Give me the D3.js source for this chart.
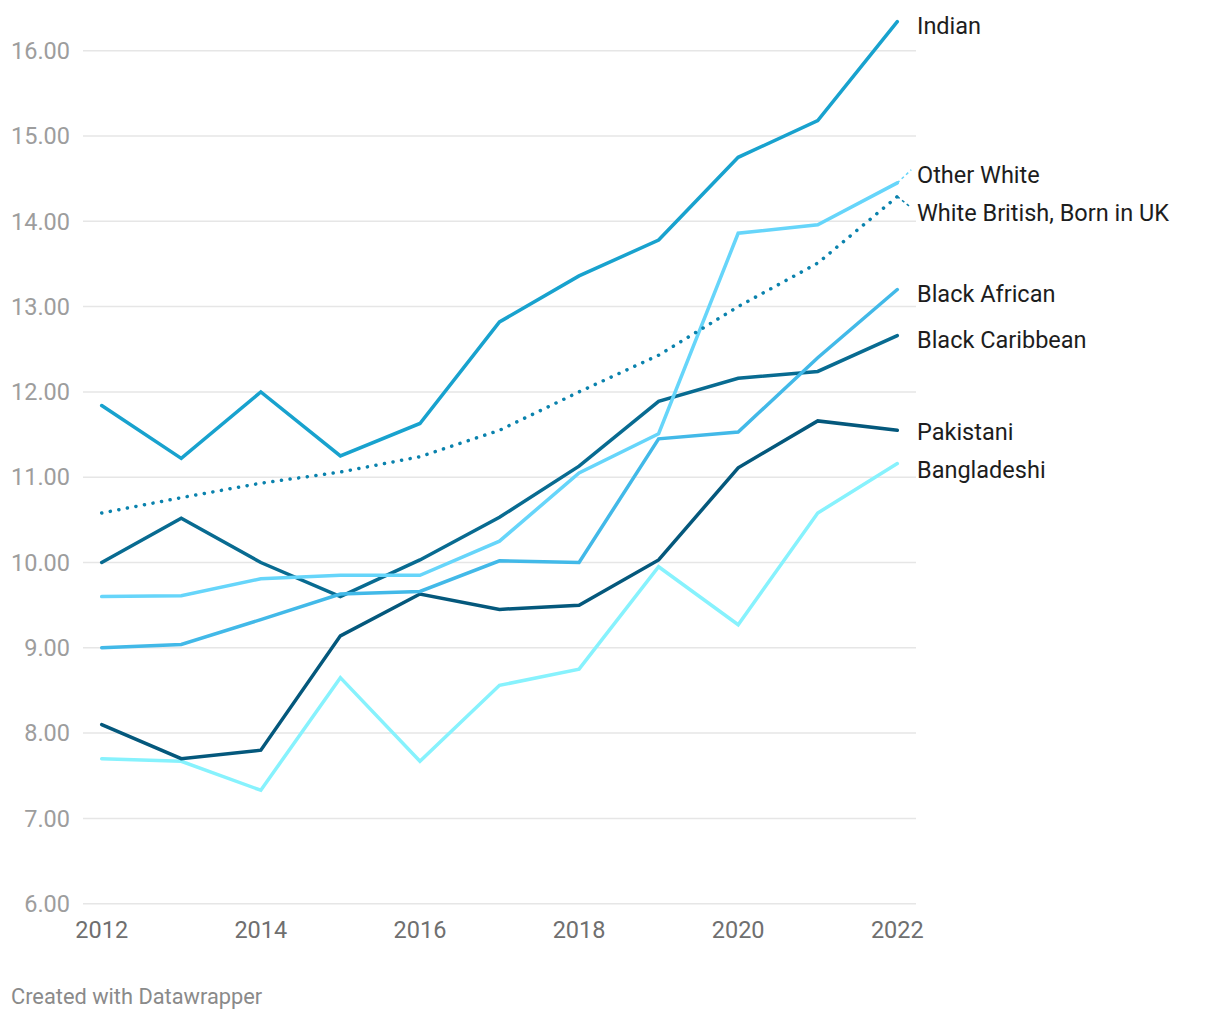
<!DOCTYPE html>
<html lang="en">
<head>
    <meta charset="UTF-8">
    <script src="https://cdn.jsdelivr.net/npm/d3@7"></script>
    <title>Line chart by ethnic group</title>
    <style>
        body {
            margin: 0;
            background: white;
            font-family: Roboto, "Noto Sans", sans-serif;
        }
        .grid line {
            stroke: #e6e6e6;
            stroke-width: 1.5px;
        }
        .series {
            fill: none;
            stroke-width: 3.5px;
            stroke-linejoin: miter;
            stroke-linecap: round;
        }
    </style>
</head>
<body>
    <div id="chart"></div>

    <script>
        // Data
        const years = [2012, 2013, 2014, 2015, 2016, 2017, 2018, 2019, 2020, 2021, 2022];

        const indian         = [11.84, 11.22, 12.00, 11.25, 11.63, 12.82, 13.36, 13.78, 14.75, 15.18, 16.34];
        const whiteBritish   = [10.58, 10.76, 10.93, 11.06, 11.24, 11.55, 12.00, 12.43, 13.00, 13.51, 14.29];
        const otherWhite     = [9.60, 9.61, 9.81, 9.85, 9.85, 10.25, 11.05, 11.51, 13.86, 13.96, 14.45];
        const blackAfrican   = [9.00, 9.04, 9.33, 9.63, 9.66, 10.02, 10.00, 11.45, 11.53, 12.40, 13.20];
        const blackCaribbean = [10.00, 10.52, 10.00, 9.60, 10.03, 10.53, 11.13, 11.89, 12.16, 12.24, 12.66];
        const pakistani      = [8.10, 7.70, 7.80, 9.14, 9.63, 9.45, 9.50, 10.03, 11.11, 11.66, 11.55];
        const bangladeshi    = [7.70, 7.67, 7.33, 8.65, 7.67, 8.56, 8.75, 9.95, 9.27, 10.58, 11.16];

        const yTicks = [6, 7, 8, 9, 10, 11, 12, 13, 14, 15, 16];
        const xTicks = [2012, 2014, 2016, 2018, 2020, 2022];

        const seriesList = [
            { name: "Bangladeshi", values: bangladeshi, color: "#87f2fd", dotted: false },
            { name: "Pakistani", values: pakistani, color: "#04587c", dotted: false },
            { name: "Black Caribbean", values: blackCaribbean, color: "#086b91", dotted: false },
            { name: "Black African", values: blackAfrican, color: "#42b9e8", dotted: false },
            { name: "Other White", values: otherWhite, color: "#66d5fa", dotted: false },
            { name: "White British, Born in UK", values: whiteBritish, color: "#0a82ad", dotted: true },
            { name: "Indian", values: indian, color: "#18a2ce", dotted: false }
        ];

        // Dimensions
        const width = 1220, height = 1020;
        const plot = { left: 83, right: 916, top: 50.7, bottom: 903.7 };

        const svg = d3.select("#chart").append("svg")
            .attr("width", width)
            .attr("height", height);

        const x = d3.scaleLinear()
            .domain([2012, 2022])
            .range([101.7, 897.3]);

        const y = d3.scaleLinear()
            .domain([6, 16])
            .range([plot.bottom, plot.top]);

        /*--- Grid + y labels ---*/
        const grid = svg.append("g").attr("class", "grid");
        grid.selectAll("line")
            .data(yTicks)
            .enter()
            .append("line")
            .attr("x1", plot.left)
            .attr("x2", plot.right)
            .attr("y1", d => y(d))
            .attr("y2", d => y(d));

        svg.append("g")
            .selectAll("text")
            .data(yTicks)
            .enter()
            .append("text")
            .attr("x", 70)
            .attr("y", d => y(d))
            .attr("dy", "0.35em")
            .attr("text-anchor", "end")
            .attr("fill", "#9d9d9d")
            .style("font-size", "23.5px")
            .text(d => d3.format(".2f")(d));

        /*--- x axis labels ---*/
        svg.append("g")
            .selectAll("text")
            .data(xTicks)
            .enter()
            .append("text")
            .attr("x", d => x(d))
            .attr("y", 938)
            .attr("text-anchor", "middle")
            .attr("fill", "#6f6f6f")
            .style("font-size", "23.5px")
            .text(d => d);

        /*--- Lines ---*/
        const line = d3.line()
            .x((d, i) => x(years[i]))
            .y(d => y(d));

        svg.append("g")
            .selectAll("path")
            .data(seriesList)
            .enter()
            .append("path")
            .attr("class", "series")
            .attr("d", d => line(d.values))
            .attr("stroke", d => d.color)
            .attr("stroke-width", d => d.dotted ? 4 : 3.5)
            .attr("stroke-dasharray", d => d.dotted ? "0.1 8.6" : null)
            .attr("stroke-linecap", "round");

        /*--- Direct labels with simple collision relaxing ---*/
        const labels = seriesList.map(s => ({
            s: s,
            lineY: y(s.values[s.values.length - 1]),
            target: y(s.values[s.values.length - 1]) + 4
        }));
        labels.forEach(l => l.pos = l.target);
        labels.sort((a, b) => a.target - b.target);
        const minGap = 38;
        for (let iter = 0; iter < 50; iter++) {
            for (let i = 1; i < labels.length; i++) {
                const gap = labels[i].pos - labels[i - 1].pos;
                if (gap < minGap) {
                    const push = (minGap - gap) / 2;
                    labels[i - 1].pos -= push;
                    labels[i].pos += push;
                }
            }
        }

        const xEnd = x(2022);

        // connector lines for labels that got moved
        svg.append("g")
            .selectAll("line")
            .data(labels.filter(l => Math.abs(l.pos - l.target) > 4))
            .enter()
            .append("line")
            .attr("x1", xEnd)
            .attr("y1", l => l.lineY)
            .attr("x2", xEnd + 14)
            .attr("y2", l => l.pos - 5)
            .attr("stroke", l => l.s.color)
            .attr("stroke-width", 1.5)
            .attr("stroke-dasharray", "3 3");

        svg.append("g")
            .selectAll("text")
            .data(labels)
            .enter()
            .append("text")
            .attr("x", 917)
            .attr("y", l => l.pos)
            .attr("dy", "0.35em")
            .attr("fill", "#1d1d1d")
            .style("font-size", "23.5px")
            .text(l => l.s.name);

        /*--- Footer ---*/
        svg.append("text")
            .attr("x", 11)
            .attr("y", 1004)
            .attr("fill", "#8a8a8a")
            .style("font-size", "21.8px")
            .text("Created with Datawrapper");
    </script>
</body>
</html>
